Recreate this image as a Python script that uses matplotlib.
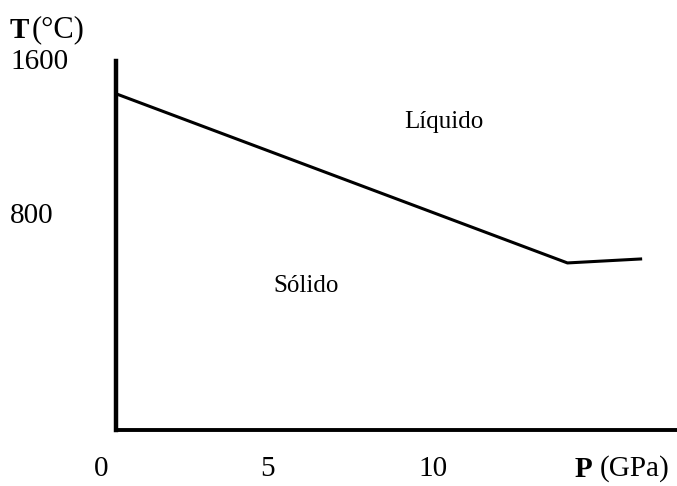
import matplotlib
matplotlib.use('Agg')
from matplotlib import pyplot as plt
import matplotlib.transforms as mtransforms

# values (P in GPa, T in degC)
pressure = [0.45, 14.05, 16.3]
temperature = [1435, 557, 578]
x_ticks = [0, 5, 10]
y_ticks = [1600, 800]
x_limits = (0.45, 17.35)
y_limits = (-310, 1605)

plt.rcParams['font.family'] = ['Liberation Serif', 'DejaVu Serif']

fig = plt.figure(figsize=(6.77, 4.86), dpi=100)
ax = fig.add_axes([116/677, 56/486, 561/677, 369/486])

ax.plot(pressure, temperature, color='black', lw=2.2, solid_capstyle='butt')
ax.set_xlim(*x_limits)
ax.set_ylim(*y_limits)

for s in ['top', 'right']:
    ax.spines[s].set_visible(False)
ax.spines['left'].set_linewidth(3.2)
ax.spines['bottom'].set_linewidth(2.8)
ax.set_xticks([])
ax.set_yticks([])

# tick labels drawn as text so the 0 left of the axis line still shows
xtrans = mtransforms.blended_transform_factory(ax.transData, fig.transFigure)
for t in x_ticks:
    ax.text(t, 1 - 469/486, str(t), transform=xtrans, fontsize=21,
            ha='center', va='center', clip_on=False)

ytrans = mtransforms.blended_transform_factory(fig.transFigure, ax.transData)
for t in y_ticks:
    ax.text(10/677, t, str(t), transform=ytrans, fontsize=21,
            ha='left', va='center', clip_on=False)

fig.text(10/677, 1 - 30/486, 'T', fontsize=21, fontweight='bold', ha='left', va='center')
fig.text(32/677, 1 - 30/486, '(°C)', fontsize=22, ha='left', va='center')
fig.text(575/677, 1 - 469/486, 'P', fontsize=21, fontweight='bold', ha='left', va='center')
fig.text(600/677, 1 - 469/486, '(GPa)', fontsize=21, ha='left', va='center')

fig.text(444/677, 1 - 122/486, 'Líquido', fontsize=18, ha='center', va='center')
fig.text(306/677, 1 - 286/486, 'Sólido', fontsize=18, ha='center', va='center')

fig.savefig('out.png', dpi=100)
